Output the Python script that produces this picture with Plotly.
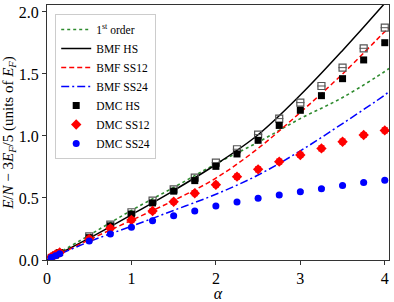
import plotly.graph_objects as go

# curves
alpha_curve = [0, 0.5, 1.0, 1.5, 2.0, 2.5, 3.0, 3.5, 4.0, 4.05]
first_order = [0, 0.20, 0.40, 0.585, 0.775, 0.95, 1.14, 1.31, 1.52, 1.545]
bmf_hs = [0, 0.176, 0.365, 0.56, 0.77, 1.01, 1.33, 1.69, 2.07, 2.11]
bmf_ss12 = [0, 0.163, 0.32, 0.48, 0.66, 0.90, 1.19, 1.50, 1.84, 1.87]
bmf_ss24 = [0, 0.148, 0.272, 0.40, 0.53, 0.685, 0.88, 1.10, 1.33, 1.357]

# DMC points
alpha_dmc = [0.05, 0.1, 0.15, 0.5, 0.75, 1.0, 1.25, 1.5, 1.75, 2.0, 2.25, 2.5,
             2.75, 3.0, 3.25, 3.5, 3.75, 4.0]
dmc_hs = [0.02, 0.04, 0.06, 0.18, 0.275, 0.37, 0.46, 0.555, 0.64, 0.755, 0.855,
          0.965, 1.085, 1.207, 1.325, 1.462, 1.613, 1.752]
dmc_ss12 = [0.025, 0.045, 0.06, 0.17, 0.255, 0.323, 0.395, 0.47, 0.538, 0.607,
            0.672, 0.731, 0.793, 0.847, 0.90, 0.954, 1.008, 1.045]
dmc_ss24 = [0.02, 0.035, 0.05, 0.153, 0.21, 0.264, 0.317, 0.357, 0.395, 0.435,
            0.468, 0.497, 0.524, 0.551, 0.575, 0.60, 0.624, 0.643]

alpha_open = [0.5, 0.75, 1.0, 1.25, 1.5, 1.75, 2.0, 2.25, 2.5, 2.75, 3.0, 3.25,
              3.5, 3.75, 4.0]
dmc_hs_open = [0.19, 0.285, 0.385, 0.478, 0.57, 0.664, 0.785, 0.893, 1.011,
               1.140, 1.269, 1.403, 1.551, 1.707, 1.873]

serif = 'Liberation Serif'

fig = go.Figure()

fig.add_trace(go.Scatter(x=alpha_curve, y=first_order, mode='lines', name='1<sup>st</sup> order',
                         line=dict(color='#2e8b2e', dash='dot', width=1.6), line_shape='spline'))
fig.add_trace(go.Scatter(x=alpha_curve, y=bmf_hs, mode='lines', name='BMF HS',
                         line=dict(color='black', width=1.5), line_shape='spline'))
fig.add_trace(go.Scatter(x=alpha_curve, y=bmf_ss12, mode='lines', name='BMF SS12',
                         line=dict(color='red', dash='5px,3px', width=1.5), line_shape='spline'))
fig.add_trace(go.Scatter(x=alpha_curve, y=bmf_ss24, mode='lines', name='BMF SS24',
                         line=dict(color='blue', dash='8px,3px,2px,3px', width=1.5), line_shape='spline'))

# open squares (no legend entry)
fig.add_trace(go.Scatter(x=alpha_open, y=dmc_hs_open, mode='markers', showlegend=False,
                         marker=dict(symbol='square-open', size=7, color='#555555',
                                     line=dict(width=1.2, color='#555555'))))
fig.add_trace(go.Scatter(x=alpha_open, y=dmc_hs_open, mode='markers', showlegend=False,
                         marker=dict(symbol='line-ew-open', size=6, color='#555555',
                                     line=dict(width=1, color='#555555'))))

fig.add_trace(go.Scatter(x=alpha_dmc, y=dmc_hs, mode='markers', name='DMC HS',
                         marker=dict(symbol='square', size=7, color='black'),
                         error_y=dict(type='constant', value=0.012, color='black',
                                      thickness=1.2, width=3)))
fig.add_trace(go.Scatter(x=alpha_dmc, y=dmc_ss12, mode='markers', name='DMC SS12',
                         marker=dict(symbol='diamond', size=8, color='red'),
                         error_y=dict(type='constant', value=0.02, color='red',
                                      thickness=1.2, width=3)))
fig.add_trace(go.Scatter(x=alpha_dmc, y=dmc_ss24, mode='markers', name='DMC SS24',
                         marker=dict(symbol='circle', size=7, color='blue'),
                         error_y=dict(type='constant', value=0.008, color='blue',
                                      thickness=1.2, width=3)))

fig.update_layout(
    width=394,
    height=302,
    margin=dict(l=47, r=5, t=5, b=42),
    plot_bgcolor='white',
    paper_bgcolor='white',
    font=dict(family=serif, size=16, color='black'),
    legend=dict(
        x=0.024, y=0.965, xanchor='left', yanchor='top',
        font=dict(family=serif, size=11.5),
        bgcolor='rgba(255,255,255,0.9)',
        bordercolor='#cccccc', borderwidth=1,
        tracegroupgap=0,
        itemwidth=30,
    ),
    xaxis=dict(
        range=[0, 4.05],
        tickvals=[0, 1, 2, 3, 4],
        showgrid=False, zeroline=False, automargin=False,
        showline=True, linecolor='#333333', linewidth=1, mirror=True,
        ticks='outside', ticklen=4, tickcolor='#333333',
        title=dict(text='<i>α</i>', standoff=2, font=dict(size=16)),
    ),
    yaxis=dict(
        range=[0, 2.056],
        tickvals=[0, 0.5, 1.0, 1.5, 2.0],
        tickformat='.1f',
        showgrid=False, zeroline=False, automargin=False,
        showline=True, linecolor='#333333', linewidth=1, mirror=True,
        ticks='outside', ticklen=4, tickcolor='#333333',
        title=dict(text='<i>E</i>/<i>N</i> − 3<i>E<sub>F</sub></i>/5 (units of <i>E<sub>F</sub></i>)',
                   standoff=2, font=dict(size=15)),
    ),
)

fig.write_html("out.html", config={'displayModeBar': False},
               post_script="document.body.style.margin='0';")
